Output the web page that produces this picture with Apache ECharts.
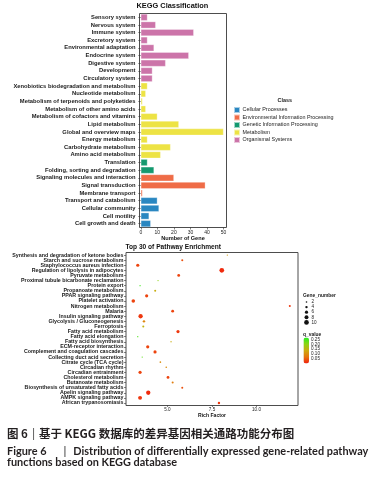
<!DOCTYPE html>
<html><head><meta charset="utf-8">
<script src="https://cdn.jsdelivr.net/npm/echarts@6/dist/echarts.min.js"></script>
<style>html,body{margin:0;padding:0;background:#fff}#c{width:381px;height:477px}</style>
</head><body><div id="c"></div>
<script>
// ---------- KEGG classification (bar chart) ----------
const keggCategories = [
  'Sensory system','Nervous system','Immune system','Excretory system','Environmental adaptation',
  'Endocrine system','Digestive system','Development','Circulatory system',
  'Xenobiotics biodegradation and metabolism','Nucleotide metabolism','Metabolism of terpenoids and polyketides',
  'Metabolism of other amino acids','Metabolism of cofactors and vitamins','Lipid metabolism',
  'Global and overview maps','Energy metabolism','Carbohydrate metabolism','Amino acid metabolism',
  'Translation','Folding, sorting and degradation',
  'Signaling molecules and interaction','Signal transduction','Membrane transport',
  'Transport and catabolism','Cellular community','Cell motility','Cell growth and death'
];
const keggCounts = [4, 9, 32, 4, 8, 29, 15, 7, 7,
  4, 3, 1, 3, 10, 23, 50, 4, 18, 12,
  4, 8,
  20, 39, 1,
  10, 11, 5, 6];
// index into classNames
const keggClass = [4,4,4,4,4,4,4,4,4, 3,3,3,3,3,3,3,3,3,3, 2,2, 1,1,1, 0,0,0,0];
const classNames = ['Cellular Processes','Environmental Information Processing','Genetic Information Processing','Metabolism','Organismal Systems'];
const classColors = ['#2a87c1','#ef6c47','#14996f','#ede344','#cc74a9'];
const geneTicks = [0, 10, 20, 30, 40, 50];

// ---------- Top 30 pathway enrichment (dot chart) ----------
const pathways = [
  'Synthesis and degradation of ketone bodies','Starch and sucrose metabolism','Staphylococcus aureus infection',
  'Regulation of lipolysis in adipocytes','Pyruvate metabolism','Proximal tubule bicarbonate reclamation',
  'Protein export','Propanoate metabolism','PPAR signaling pathway','Platelet activation','Nitrogen metabolism',
  'Malaria','Insulin signaling pathway','Glycolysis / Gluconeogenesis','Ferroptosis','Fatty acid metabolism',
  'Fatty acid elongation','Fatty acid biosynthesis','ECM-receptor interaction','Complement and coagulation cascades',
  'Collecting duct acid secretion','Citrate cycle (TCA cycle)','Circadian rhythm','Circadian entrainment',
  'Cholesterol metabolism','Butanoate metabolism','Biosynthesis of unsaturated fatty acids',
  'Apelin signaling pathway','AMPK signaling pathway','African trypanosomiasis'
];
const richFactor = [8.36, 5.83, 3.33, 8.05, 5.63, 4.47, 3.46, 4.31, 3.83, 3.08, 11.87,
  5.29, 3.49, 3.68, 3.64, 5.59, 3.33, 5.20, 3.89, 4.30, 3.58, 4.60, 4.93, 3.46,
  5.03, 5.29, 5.83, 3.92, 3.46, 7.89];
const geneNumber = [1, 3, 6, 10, 5, 1, 1, 3, 6, 7, 3,
  5, 9, 4, 3, 6, 1, 1, 6, 6, 1, 2, 2, 6,
  5, 3, 3, 9, 8, 4];
const qValue = [0.12, 0.04, 0.03, 0.01, 0.03, 0.20, 0.25, 0.14, 0.03, 0.03, 0.02,
  0.03, 0.02, 0.09, 0.15, 0.02, 0.24, 0.14, 0.03, 0.03, 0.23, 0.10, 0.10, 0.03,
  0.03, 0.08, 0.04, 0.01, 0.02, 0.02];
const richTicks = [5, 7.5, 10];
const sizeLegendValues = [2, 4, 6, 8, 10];
const qLegendTicks = [0.25, 0.20, 0.15, 0.10, 0.05];

// ---------- drawing ----------
const FF = '"Liberation Sans", Arial, sans-serif';
const sizeOf = g => 0.9 + 0.38 * g;
const qMin = 0, qMax = 0.27;
const qColors = ['#f21d0d', '#e6740f', '#cdaa10', '#8cd414', '#22f022'];
const vmBox = {left: 303.5, top: 337.5, w: 5.5, h: 26};

const chart = echarts.init(document.getElementById('c'), null, {renderer: 'canvas'});

const barSeries = classNames.map((name, c) => ({
  type: 'bar', name, stack: 'kegg', xAxisIndex: 0, yAxisIndex: 0,
  barCategoryGap: '12%',
  itemStyle: {color: classColors[c], borderColor: 'rgba(255,255,255,0.6)', borderWidth: 0.5},
  data: keggCounts.map((v, i) => keggClass[i] === c ? v : null)
}));

const dotSeries = {
  type: 'scatter', xAxisIndex: 1, yAxisIndex: 1, symbol: 'circle',
  data: pathways.map((p, i) => [richFactor[i], p, geneNumber[i], qValue[i]]),
  symbolSize: v => sizeOf(v[2]),
  itemStyle: {opacity: 1}
};

const graphics = [];
graphics.push({type: 'text', left: 303, top: 293.5,
  style: {text: 'Gene_number', fontSize: 4.9, fontWeight: 'bold', fill: '#222', fontFamily: FF}});
sizeLegendValues.forEach((g, k) => {
  const cy = 302 + k * 5.1;
  graphics.push({type: 'circle', shape: {cx: 306.5, cy: cy, r: sizeOf(g) / 2}, style: {fill: '#111'}});
  graphics.push({type: 'text', x: 311.5, y: cy, style: {text: String(g), fontSize: 4.6, fill: '#222',
    fontFamily: FF, verticalAlign: 'middle', textVerticalAlign: 'middle'}});
});
graphics.push({type: 'text', left: 303, top: 332,
  style: {text: 'q_value', fontSize: 4.9, fontWeight: 'bold', fill: '#222', fontFamily: FF}});
qLegendTicks.forEach(q => {
  const y = vmBox.top + (1 - (q - qMin) / (qMax - qMin)) * vmBox.h;
  graphics.push({type: 'text', x: 311, y: y, style: {text: q.toFixed(2), fontSize: 4.6, fill: '#222',
    fontFamily: FF, verticalAlign: 'middle', textVerticalAlign: 'middle'}});
});

const option = {
  animation: false,
  backgroundColor: '#fff',
  textStyle: {fontFamily: FF},
  title: [
    {text: 'KEGG Classification', left: 136.5, top: 2.5, padding: 0,
      textStyle: {fontSize: 7.4, fontWeight: 'bold', color: '#111', fontFamily: FF}},
    {text: 'Class', left: 277.5, top: 97.8, padding: 0,
      textStyle: {fontSize: 5.4, fontWeight: 'bold', color: '#222', fontFamily: FF}},
    {text: 'Top 30 of Pathway Enrichment', left: 125.5, top: 243.8, padding: 0,
      textStyle: {fontSize: 6.6, fontWeight: 'bold', color: '#111', fontFamily: FF}},
    {text: '{a|图 6}{g|}{b||}{g|}{a|基于 KEGG 数据库的差异基因相关通路功能分布图}', left: 7, top: 424.5, padding: 0,
      textStyle: {rich: {
        a: {fontSize: 11.5, color: '#231f20', fontFamily: '"Noto Sans CJK SC", sans-serif'},
        b: {fontSize: 10.5, color: '#666', fontFamily: '"Noto Sans CJK SC", sans-serif'},
        g: {width: 4}
      }}},
    {text: '{a|Figure 6}{g1|}{b||}{g2|}{a|Distribution of differentially expressed gene-related pathway}',
      left: 7, top: 442, padding: 0,
      textStyle: {rich: {
        a: {fontSize: 10.9, fontWeight: 'bold', color: '#231f20', fontFamily: 'Lato, "Open Sans", sans-serif'},
        b: {fontSize: 10.9, color: '#555', fontFamily: 'Lato, sans-serif'},
        g1: {width: 17}, g2: {width: 7}
      }}},
    {text: 'functions based on KEGG database', left: 7, top: 456.5, padding: 0,
      textStyle: {fontSize: 10.9, fontWeight: 'bold', color: '#231f20', fontFamily: 'Lato, "Open Sans", sans-serif'}}
  ],
  legend: {
    data: classNames, orient: 'vertical', left: 233, top: 106, padding: 0,
    itemWidth: 6, itemHeight: 6, itemGap: -0.5, icon: 'rect',
    textStyle: {fontSize: 5.4, lineHeight: 6, color: '#222', fontFamily: FF, padding: [0, 0, 0, -2.5]},
    selectedMode: false
  },
  grid: [
    {left: 139.5, top: 13.5, width: 87, height: 214, show: true, borderColor: '#4d4d4d', borderWidth: 1, backgroundColor: '#fff'},
    {left: 126, top: 252.5, width: 172, height: 153, show: true, borderColor: '#4d4d4d', borderWidth: 1, backgroundColor: '#fff'}
  ],
  xAxis: [
    {type: 'value', gridIndex: 0, min: -0.8, max: 51.8,
      name: 'Number of Gene', nameLocation: 'middle', nameGap: 7.5,
      nameTextStyle: {fontSize: 5.6, fontWeight: 'bold', color: '#111', fontFamily: FF},
      axisLine: {show: false}, splitLine: {show: false},
      axisTick: {show: true, length: 2, lineStyle: {color: '#333', width: 0.6}, customValues: geneTicks},
      axisLabel: {fontSize: 5, color: '#222', margin: 2.5, customValues: geneTicks, fontFamily: FF}},
    {type: 'value', gridIndex: 1, min: 2.67, max: 12.33,
      name: 'Rich Factor', nameLocation: 'middle', nameGap: 5.5,
      nameTextStyle: {fontSize: 5.1, fontWeight: 'bold', color: '#111', fontFamily: FF},
      axisLine: {show: false}, splitLine: {show: false},
      axisTick: {show: true, length: 1.5, lineStyle: {color: '#333', width: 0.6}, customValues: richTicks},
      axisLabel: {fontSize: 4.6, color: '#222', margin: 1.5, customValues: richTicks, fontFamily: FF,
        formatter: v => Number(v).toFixed(1)}}
  ],
  yAxis: [
    {type: 'category', gridIndex: 0, data: keggCategories, inverse: true,
      axisLine: {show: false}, splitLine: {show: false},
      axisTick: {show: true, length: 2.5, alignWithLabel: true, lineStyle: {color: '#333', width: 0.6}},
      axisLabel: {fontSize: 5.8, fontWeight: 'bold', color: '#1a1a1a', margin: 4, interval: 0, fontFamily: FF}},
    {type: 'category', gridIndex: 1, data: pathways, inverse: true,
      axisLine: {show: false}, splitLine: {show: false},
      axisTick: {show: true, length: 2, alignWithLabel: true, lineStyle: {color: '#333', width: 0.6}},
      axisLabel: {fontSize: 5.3, fontWeight: 'bold', color: '#1a1a1a', margin: 2.5, interval: 0, fontFamily: FF}}
  ],
  visualMap: {
    type: 'continuous', seriesIndex: 5, dimension: 3, min: qMin, max: qMax,
    inRange: {color: qColors}, show: true, calculable: false, orient: 'vertical',
    left: vmBox.left, top: vmBox.top, itemWidth: vmBox.w, itemHeight: vmBox.h, padding: 0, text: null
  },
  graphic: graphics,
  series: barSeries.concat([dotSeries])
};
chart.setOption(option);
</script>
</body></html>
